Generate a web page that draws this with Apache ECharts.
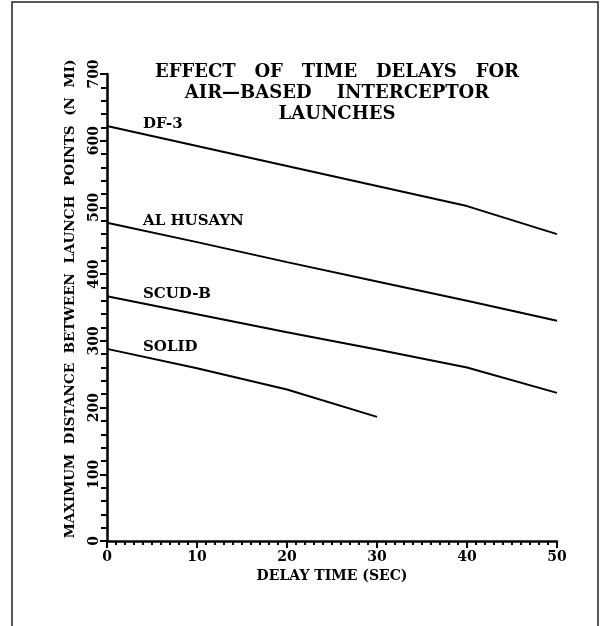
<!DOCTYPE html>
<html>
<head>
<meta charset="utf-8">
<script src="https://cdn.jsdelivr.net/npm/echarts@6/dist/echarts.min.js"></script>
<style>
  html, body { margin: 0; padding: 0; background: #fff; }
  #chart { width: 610px; height: 626px; }
</style>
</head>
<body>
<div id="chart"></div>
<script>
// delay time (sec) on x, max distance between launch points (n mi) on y
const delays = [0, 10, 20, 30, 40, 50];
const df3 = [622, 592, 562, 532, 502, 460];
const alHusayn = [477, 448, 418, 389, 360, 330];
const scudB = [367, 340, 313, 287, 260, 222];
const solidDelays = [0, 10, 20, 30];
const solid = [288, 259, 227, 186];
const seriesNames = ['DF-3', 'AL HUSAYN', 'SCUD-B', 'SOLID'];
const titleLines = ['EFFECT   OF   TIME   DELAYS   FOR', 'AIR\u2014BASED    INTERCEPTOR', 'LAUNCHES'];

const font = '"DejaVu Serif", serif';
const ink = '#000';

function makeSeries(name, xs, ys) {
    return {
        name: name,
        type: 'line',
        symbol: 'circle',
        symbolSize: 0,
        showSymbol: true,
        lineStyle: { color: ink, width: 2 },
        itemStyle: { color: ink },
        data: xs.map(function (x, i) {
            let item = { value: [x, ys[i]] };
            if (i === 0) {
                item.label = {
                    show: true,
                    formatter: name,
                    position: 'right',
                    distance: 0,
                    offset: [36, -2],
                    color: ink,
                    fontFamily: font,
                    fontWeight: 'bold',
                    fontSize: 15
                };
            }
            return item;
        })
    };
}

let chart = echarts.init(document.getElementById('chart'));
let option = {
    animation: false,
    backgroundColor: '#fff',
    title: {
        text: titleLines.join('\n'),
        left: 332,
        textAlign: 'center',
        top: 57,
        textStyle: {
            color: ink,
            fontFamily: font,
            fontWeight: 'bold',
            fontSize: 18,
            lineHeight: 21
        }
    },
    graphic: [{
        type: 'polyline',
        shape: { points: [[12, 626], [12, 2], [598, 2], [598, 626]] },
        style: { stroke: '#222', lineWidth: 1.5, fill: null }
    }],
    grid: { left: 107, right: 53, top: 74, bottom: 85 },
    xAxis: {
        type: 'value',
        min: 0, max: 50, interval: 10,
        name: 'DELAY TIME (SEC)',
        nameLocation: 'middle',
        nameGap: 27,
        nameTextStyle: { color: ink, fontFamily: font, fontWeight: 'bold', fontSize: 14, verticalAlign: 'top' },
        axisLine: { lineStyle: { color: ink, width: 2.5 } },
        axisTick: { show: true, inside: false, length: 7, lineStyle: { color: ink, width: 2 } },
        minorTick: { show: true, splitNumber: 10, length: 4, lineStyle: { color: ink, width: 2 } },
        axisLabel: { color: ink, fontFamily: font, fontWeight: 'bold', fontSize: 14, margin: 9 },
        splitLine: { show: false }
    },
    yAxis: {
        type: 'value',
        min: 0, max: 700, interval: 100,
        name: 'MAXIMUM  DISTANCE  BETWEEN  LAUNCH  POINTS  (N  MI)',
        nameLocation: 'middle',
        nameRotate: 90,
        nameGap: 30,
        nameTextStyle: { color: ink, fontFamily: font, fontWeight: 'bold', fontSize: 13.6, padding: [0, 0, 0, 17] },
        axisLine: { lineStyle: { color: ink, width: 2.5 } },
        axisTick: { show: true, inside: false, length: 7, lineStyle: { color: ink, width: 2 } },
        minorTick: { show: true, splitNumber: 5, length: 6, lineStyle: { color: ink, width: 2 } },
        axisLabel: { color: ink, fontFamily: font, fontWeight: 'bold', fontSize: 14, rotate: 90, margin: 6 },
        splitLine: { show: false }
    },
    series: [
        makeSeries(seriesNames[0], delays, df3),
        makeSeries(seriesNames[1], delays, alHusayn),
        makeSeries(seriesNames[2], delays, scudB),
        makeSeries(seriesNames[3], solidDelays, solid)
    ]
};
chart.setOption(option);
</script>
</body>
</html>
